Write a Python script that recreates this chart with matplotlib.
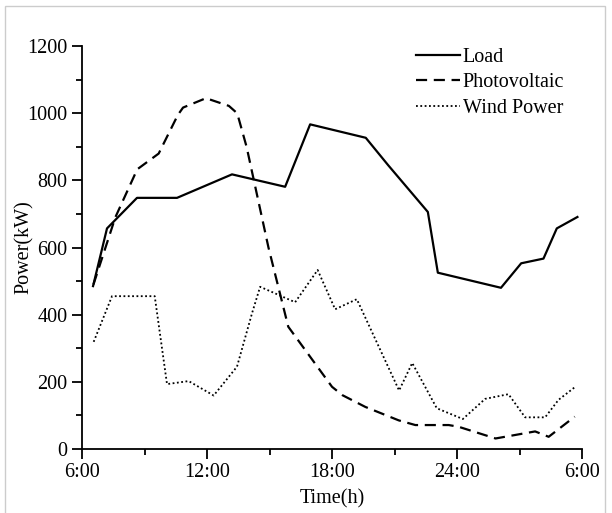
import numpy as np
import matplotlib
matplotlib.use("Agg")
import matplotlib.pyplot as plt
from matplotlib.patches import Rectangle

# time in hours (6 = 6:00, 30 = 6:00 next day)
t_load = [6.53, 7.2, 8.64, 10.56, 13.2, 15.75, 16.95, 19.62, 20.7, 22.6, 23.08, 26.11, 27.08, 28.15, 28.79, 29.78]
load = [485, 657, 748, 748, 818, 781, 967, 927, 845, 706, 525, 480, 553, 567, 657, 691]

t_pv = [6.55, 7.6, 8.65, 9.68, 10.6, 10.85, 11.95, 13.05, 13.45, 13.9, 14.95, 15.9,
        18.0, 18.5, 19.6, 21.2, 22.0, 23.6, 24.07, 25.85, 27.75, 28.4, 29.65]
pv = [490, 690, 833, 880, 995, 1017, 1045, 1022, 1000, 900, 600, 364,
      185, 160, 125, 85, 71, 71, 66, 31, 52, 36, 96]

t_wind = [6.56, 7.44, 9.49, 10.08, 11.12, 12.32, 13.44, 14.16, 14.55, 16.23, 17.31, 18.15,
          19.19, 21.22, 21.85, 23.03, 24.28, 25.35, 26.47, 27.27, 28.23, 28.87, 29.7]
wind = [319, 455, 455, 193, 202, 159, 245, 404, 483, 437, 533, 416,
        446, 174, 256, 121, 89, 149, 163, 94, 94, 146, 186]

xticks = [6, 12, 18, 24, 30]
xlabels = ["6:00", "12:00", "18:00", "24:00", "6:00"]

plt.rcParams['font.family'] = ['Liberation Serif', 'DejaVu Serif']

fig = plt.figure(figsize=(6.12, 5.13), dpi=100)
ax = fig.add_axes([0.134, 0.125, 0.817, 0.785])

ax.plot(t_load, load, color="black", lw=1.6, ls="-", label="Load")
ax.plot(t_pv, pv, color="black", lw=1.6, ls=(0, (5, 3)), label="Photovoltaic")
ax.plot(t_wind, wind, color="black", lw=1.3, ls=(0, (1, 1.4)), label="Wind Power")

ax.set_xlim(6, 30)
ax.set_ylim(0, 1200)
ax.set_xticks(xticks)
ax.set_xticklabels(xlabels)
ax.set_xticks([9, 15, 21, 27], minor=True)
ax.set_yticks(np.arange(0, 1201, 200))
ax.set_yticks(np.arange(100, 1200, 200), minor=True)
ax.tick_params(which="major", direction="out", length=7, width=1.3, labelsize=14.5, colors="black")
ax.tick_params(which="minor", direction="out", length=4, width=1.3)

for s in ["top", "right"]:
    ax.spines[s].set_visible(False)
for s in ["left", "bottom"]:
    ax.spines[s].set_linewidth(1.3)

ax.set_xlabel("Time(h)", fontsize=14.5, labelpad=5)
ax.set_ylabel("Power(kW)", fontsize=14.5)
ax.yaxis.set_label_coords(-0.097, 0.5)

ax.legend(loc="upper right", frameon=False, fontsize=14.5, handlelength=2.2,
          handletextpad=0.1, labelspacing=0.3, bbox_to_anchor=(1.0, 1.04))

# light frame around figure
fig.add_artist(Rectangle((0.008, -0.01), 0.98, 0.998, transform=fig.transFigure,
                         fill=False, edgecolor="#cccccc", lw=1))

fig.savefig("out.png", dpi=100)
